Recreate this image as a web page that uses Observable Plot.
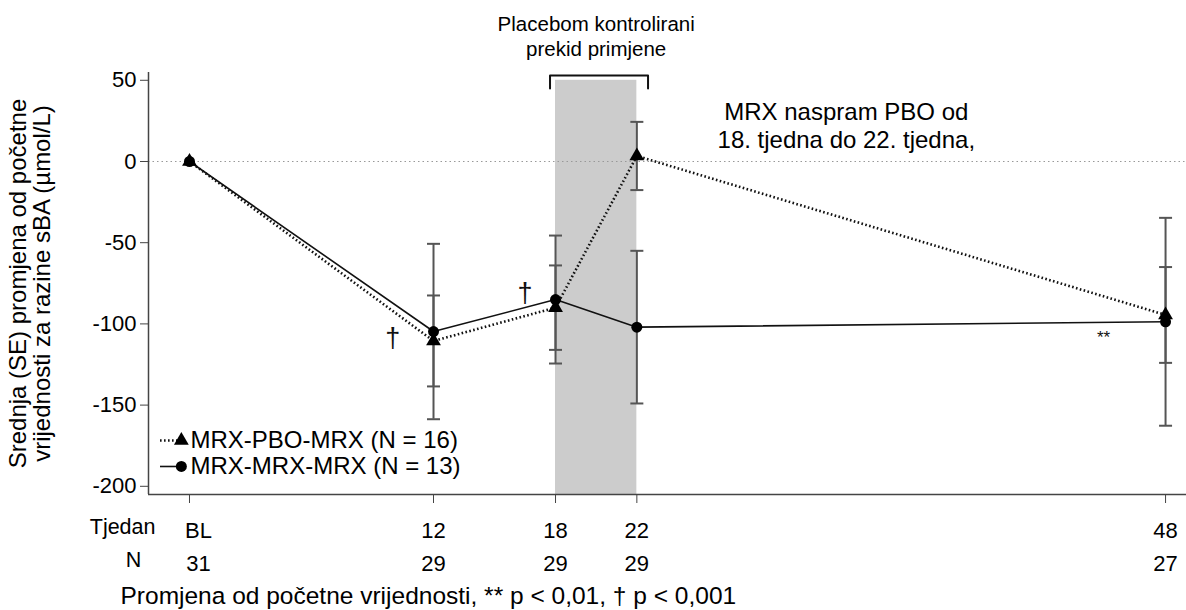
<!DOCTYPE html>
<html>
<head>
<meta charset="utf-8">
<script src="https://cdn.jsdelivr.net/npm/d3@7"></script>
<script src="https://cdn.jsdelivr.net/npm/@observablehq/plot@0.6"></script>
<style>
  html, body { margin: 0; padding: 0; background: #fff; }
  #chart { width: 1186px; height: 610px; }
</style>
</head>
<body>
<div id="chart"></div>
<script>
// ---- data ----
const weeks = [0, 12, 18, 22, 48];
const weekLabels = ["BL", "12", "18", "22", "48"];
const nAtRisk = [31, 29, 29, 29, 27];
const pboMean = [0, -110.5, -90, 3.4, -94.5];   // MRX-PBO-MRX
const pboSE   = [0, 28, 26, 21, 29.5];
const mrxMean = [0, -104.7, -85, -102, -98.7];  // MRX-MRX-MRX
const mrxSE   = [0, 54, 39.4, 47, 64];
const yTicks = [50, 0, -50, -100, -150, -200];
const shadeWeeks = [18, 22];
const seriesNames = ["MRX-PBO-MRX (N = 16)", "MRX-MRX-MRX (N = 13)"];
const sigMarks = [
  {week: 10.0, value: -109, label: "†", size: 27},
  {week: 16.5, value: -81, label: "†", size: 27},
  {week: 44.95, value: -108.5, label: "**", size: 17}
];
const noteText = "MRX naspram PBO od\n18. tjedna do 22. tjedna,";
const notePos = {week: 32.3, value: 22.5};
const topTitle = "Placebom kontrolirani\nprekid primjene";
const yLabel = "Srednja (SE) promjena od početne\nvrijednosti za razine sBA (µmol/L)";
const caption = "Promjena od početne vrijednosti, ** p < 0,01, † p < 0,001";

// ---- layout ----
const xDomain = [-2.016, 49.03];
const yDomain = [-205.05, 54.8];
const font = "Liberation Sans, Arial, Helvetica, sans-serif";

const pbo = weeks.map((w, i) => ({week: w, mean: pboMean[i], se: pboSE[i]}));
const mrx = weeks.map((w, i) => ({week: w, mean: mrxMean[i], se: mrxSE[i]}));
const bars = [...pbo, ...mrx].filter(d => d.se > 0);
const caps = bars.flatMap(d => [{week: d.week, v: d.mean - d.se}, {week: d.week, v: d.mean + d.se}]);
const tickText = weeks.map((w, i) => ({week: w, label: weekLabels[i] + "\n" + nAtRisk[i]}));

const capSymbol = {
  draw(ctx, size) {
    const h = Math.sqrt(size / Math.PI);
    ctx.moveTo(-h, 0);
    ctx.lineTo(h, 0);
  }
};

// legend geometry (data units)
const legendPbo = [{name: seriesNames[0], value: -171.8, symbol: "triangle"}];
const legendMrx = [{name: seriesNames[1], value: -187.8, symbol: "circle"}];
const legendRows = [...legendPbo, ...legendMrx];
const legX0 = -1.45, legX1 = -0.4, legTextX = 0.05;
const bracket = [
  {week: shadeWeeks[0] - 0.27, value: 45},
  {week: shadeWeeks[0] - 0.27, value: 53},
  {week: shadeWeeks[1] + 0.55, value: 53},
  {week: shadeWeeks[1] + 0.55, value: 45}
];
const dotted = {stroke: "#111", strokeWidth: 2.6, strokeDasharray: "1.6,2.4", strokeLinecap: "butt"};
const xLabelStyle = {frameAnchor: "bottom", lineAnchor: "middle", dy: 49.5, fontSize: 22, lineHeight: 1.5};

const chart = Plot.plot({
  width: 1186,
  height: 610,
  marginLeft: 148,
  marginRight: 0,
  marginTop: 72,
  marginBottom: 116,
  style: {fontFamily: font, background: "#fff", color: "#000"},
  x: {domain: xDomain},
  y: {domain: yDomain},
  marks: [
    Plot.rect([shadeWeeks], {x1: d => d[0], x2: d => d[1], y1: yDomain[0], y2: 50, fill: "#cccccc"}),
    Plot.ruleY([0], {stroke: "#999", strokeWidth: 1.2, strokeDasharray: "1.5,3", strokeLinecap: "butt"}),
    Plot.ruleX([xDomain[0]], {stroke: "#444", strokeWidth: 1.5}),
    Plot.ruleY([yDomain[0]], {stroke: "#444", strokeWidth: 1.5}),
    Plot.axisY({ticks: yTicks, tickSize: 8, tickPadding: 4, fontSize: 22, label: null, stroke: "#444", tickFormat: d => String(d)}),
    Plot.axisX({ticks: weeks, tickSize: 9, label: null, stroke: "#444", tickFormat: () => ""}),
    Plot.text(tickText.filter(d => d.week !== 0), {x: "week", text: "label", ...xLabelStyle}),
    Plot.text(tickText.filter(d => d.week === 0), {x: "week", text: "label", ...xLabelStyle, dx: 9}),
    Plot.text(["Tjedan"], {frameAnchor: "bottom-left", dx: 7, dy: 33, textAnchor: "end", lineAnchor: "middle", fontSize: 21.5}),
    Plot.text(["N"], {frameAnchor: "bottom-left", dx: -15, dy: 66, textAnchor: "middle", lineAnchor: "middle", fontSize: 21.5}),
    // error bars
    Plot.ruleX(bars, {x: "week", y1: d => d.mean - d.se, y2: d => d.mean + d.se, stroke: "#555", strokeWidth: 2}),
    Plot.dot(caps, {x: "week", y: "v", symbol: capSymbol, r: 6.5, stroke: "#555", strokeWidth: 2, fill: "none"}),
    // lines
    Plot.line(pbo, {x: "week", y: "mean", ...dotted}),
    Plot.line(mrx, {x: "week", y: "mean", stroke: "#111", strokeWidth: 1.6}),
    Plot.dot(pbo, {x: "week", y: "mean", symbol: "triangle", r: 5.5, fill: "#000"}),
    Plot.dot(mrx, {x: "week", y: "mean", symbol: "circle", r: 5.5, fill: "#000"}),
    // significance marks
    Plot.text(sigMarks, {x: "week", y: "value", text: "label", fontSize: d => d.size, fill: "#111"}),
    // bracket + top title
    Plot.line(bracket, {x: "week", y: "value", stroke: "#111", strokeWidth: 2}),
    Plot.text([topTitle], {frameAnchor: "top", x: (shadeWeeks[0] + shadeWeeks[1]) / 2, dy: -37.5, lineAnchor: "middle", textAnchor: "middle", fontSize: 20.5, lineHeight: 1.22}),
    Plot.text([noteText], {x: notePos.week, y: notePos.value, fontSize: 24, lineHeight: 1.17}),
    // y label
    Plot.text([yLabel], {frameAnchor: "left", dx: -118, rotate: -90, textAnchor: "middle", lineAnchor: "middle", fontSize: 24, lineHeight: 1.0}),
    // legend
    Plot.link(legendPbo, {x1: legX0, x2: legX1, y1: "value", y2: "value", ...dotted}),
    Plot.link(legendMrx, {x1: legX0, x2: legX1, y1: "value", y2: "value", stroke: "#111", strokeWidth: 1.6}),
    Plot.dot(legendRows, {x: legX1, y: "value", symbol: "symbol", r: 5.5, fill: "#000"}),
    Plot.text(legendRows, {x: legTextX, y: "value", text: "name", textAnchor: "start", fontSize: 24}),
    // caption
    Plot.text([caption], {frameAnchor: "bottom-left", dx: -28, dy: 102, textAnchor: "start", lineAnchor: "middle", fontSize: 24.5})
  ]
});
document.getElementById("chart").appendChild(chart);
</script>
</body>
</html>
